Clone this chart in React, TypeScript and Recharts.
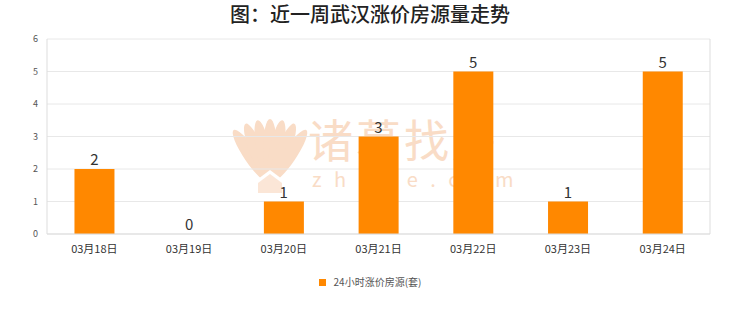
import React from "react";
import { ComposedChart, Bar, Line, XAxis, YAxis, CartesianGrid, LabelList } from "recharts";

const categories = ["03月18日", "03月19日", "03月20日", "03月21日", "03月22日", "03月23日", "03月24日"];
const values = [2, 0, 1, 3, 5, 1, 5];
const yTicks = [0, 1, 2, 3, 4, 5, 6];
const seriesName = "24小时涨价房源(套)";
const title = "图：近一周武汉涨价房源量走势";
const watermarkText = "诸葛找房";
const watermarkSub = "zhuge.com";

const data = categories.map((c, i) => ({ name: c, v: values[i] }));
const font = "'Noto Sans CJK SC', 'Noto Sans', sans-serif";
const barColor = "#ff8800";
const wmColor = "#f9dcc6";

function Watermark() {
  const petals = [-34, -22, -11, 0, 11, 22, 34];
  return (
    <svg width={740} height={312} style={{ position: "absolute", left: 0, top: 0 }}>
      <g>
        {petals.map((a) => (
          <ellipse key={a} cx={270} cy={150} rx={7} ry={31} fill={wmColor}
            transform={`rotate(${a} 270 184)`} />
        ))}
        <path d="M254 182 L270 170 L286 182 L286 196 L254 196 Z" fill="#fff" />
        <path d="M258 183 L270 174 L282 183 L282 193 L258 193 Z" fill={wmColor} opacity={0.7} />
      </g>
      <text x={308} y={158} fontSize={45} fill={wmColor} fontFamily={font} letterSpacing={3}>{watermarkText}</text>
      <text x={312} y={187} fontSize={20} fill={wmColor} fontFamily={font} letterSpacing={12.5}>{watermarkSub}</text>
    </svg>
  );
}

export default function App() {
  return (
    <div style={{ position: "absolute", left: 0, top: 0, width: 740, height: 312, background: "#fff", fontFamily: font }}>
      <Watermark />
      <div style={{ position: "absolute", left: 0, top: 0, width: 740, textAlign: "center", fontSize: 20, fontWeight: 500, color: "#222", lineHeight: "28px" }}>
        {title}
      </div>
      <ComposedChart width={740} height={312} data={data} margin={{ top: 39, right: 0, left: 0, bottom: 0 }} barCategoryGap="29%">
        <CartesianGrid vertical={false} stroke="#e8e8e8" />
        <XAxis dataKey="name" axisLine={{ stroke: "#ddd" }} tickLine={false} tickMargin={5} height={78}
          tick={{ fontSize: 11, fill: "#333", fontFamily: font }} interval={0} />
        <YAxis domain={[0, 6]} ticks={yTicks} width={47} axisLine={{ stroke: "#ddd" }} tickLine={false} tickSize={0} tickMargin={9}
          tick={{ fontSize: 9, fill: "#555", fontFamily: font }} interval={0} />
        <YAxis yAxisId="r" orientation="right" width={30} tick={false} tickLine={false} axisLine={{ stroke: "#ddd" }} />
        <Bar dataKey="v" name={seriesName} fill={barColor} isAnimationActive={false} />
        <Line dataKey="v" stroke="none" dot={false} activeDot={false} legendType="none" isAnimationActive={false}>
          <LabelList dataKey="v" position="top" offset={4} style={{ fontSize: 15, fill: "#333", fontFamily: font }} />
        </Line>
      </ComposedChart>
      <div style={{ position: "absolute", left: 0, top: 273, width: 740, textAlign: "center", fontSize: 10, color: "#555", lineHeight: "16px" }}>
        <span style={{ display: "inline-block", width: 7, height: 7, background: barColor, marginRight: 8, verticalAlign: "middle" }} />
        <span style={{ verticalAlign: "middle" }}>{seriesName}</span>
      </div>
    </div>
  );
}
